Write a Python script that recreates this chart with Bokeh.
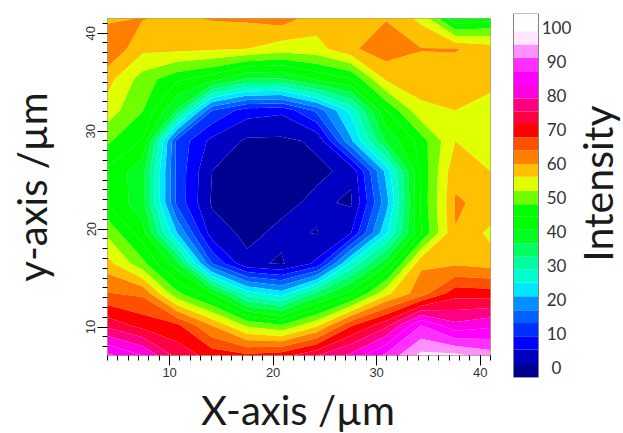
from bokeh.plotting import figure
from bokeh.layouts import row, column
from bokeh.models import Range1d, FixedTicker
from bokeh.core.properties import value
from bokeh.embed import file_html
from bokeh.resources import INLINE

x_um = [4.0, 7.4, 10.7, 14.1, 17.5, 20.8, 24.2, 27.5, 30.9, 34.3, 37.6, 41.0]
y_um = [41.5, 38.4, 35.3, 32.1, 29.0, 25.9, 22.7, 19.6, 16.5, 13.4, 10.2, 7.1]
r00 = [59, 59.9, 59, 60, 60.3, 61.5, 58, 58, 59.5, 55, 41, 43]
r01 = [63, 57, 57, 56.5, 56, 54, 54.5, 59, 62, 59.85, 59.95, 58]
r02 = [57.5, 50, 45, 42, 36, 36, 41, 44, 56.5, 58, 58, 57.5]
r03 = [54, 48, 36, 13, 7, 6, 14, 26, 44, 55, 56, 54]
r04 = [48.5, 44, 12, 4, 0.3, 0.2, 1.6, 20, 37, 46, 56, 53]
r05 = [43.5, 38, 12, 1, 0, 0, 0.3, 1.8, 22, 45, 59, 56]
r06 = [44, 38, 12, 0.5, 0, 0, 1.8, 0.4, 19, 45, 60, 59]
r07 = [51, 42, 21, 3, 0, 1.9, 0.8, 5, 24, 44, 59.6, 55]
r08 = [57.5, 49, 38, 13, 1.9, 0.5, 6, 26, 39, 59, 59, 58]
r09 = [64, 63, 49, 41, 27, 23, 34, 42, 55, 62, 70, 69.5]
r10 = [74, 70, 68.5, 59.5, 51, 48, 55, 67, 74, 87, 80, 82]
r11 = [88, 83, 74, 70, 68.5, 70, 75, 80, 88, 96, 96, 93]
rows_top_down = [r00, r01, r02, r03, r04, r05, r06, r07, r08, r09, r10, r11]

levels = [-3, 1, 5.2, 9.1, 13, 16.8, 20.9, 24.9, 28.8, 32.5, 36.4, 40.4, 44.3, 47.9, 51.9,
          56, 59.7, 63.7, 67.6, 71.5, 75.2, 79, 83, 87, 91, 94.9, 98.8, 104]
colors = ["#000090", "#0000c0", "#0000ff", "#0030ff", "#0060ff", "#0090ff", "#00e8ff",
          "#00ffd0", "#00ffa0", "#00ff60", "#00ff20", "#00ff00", "#00ff00", "#70ff00",
          "#e0ff00", "#ffc000", "#ff8000", "#ff5000", "#ff0000", "#ff0040", "#ff0080",
          "#ff00e0", "#ff00ff", "#ff30ff", "#ff90ff", "#ffe8ff", "#ffffff"]
bar_ticks = [0, 10, 20, 30, 40, 50, 60, 70, 80, 90, 100]

y_up = y_um[::-1]
z_up = rows_top_down[::-1]

p = figure(width=505, height=382, output_backend="svg", toolbar_location=None,
           x_range=Range1d(4, 41), y_range=Range1d(7.1, 41.5),
           min_border_left=107, min_border_right=15, min_border_top=18, min_border_bottom=27,
           y_axis_label="y-axis /µm")
p.contour(x_um, y_up, z_up, levels, fill_color=colors, line_color=None)
p.grid.visible = False
p.outline_line_color = "#a8a878"
for ax in (p.xaxis[0], p.yaxis[0]):
    ax.axis_line_color = None
    ax.major_tick_in = 0
    ax.major_tick_out = 10
    ax.minor_tick_in = 0
    ax.minor_tick_out = 5
    ax.major_tick_line_color = "#000000"
    ax.minor_tick_line_color = "#000000"
    ax.major_label_text_font = "Liberation Sans"
    ax.major_label_text_font_size = "13px"
    ax.major_label_text_color = "#333333"
    ax.axis_label_text_font = "Lato"
    ax.axis_label_text_font_style = "normal"
    ax.axis_label_text_font_size = "40px"
    ax.axis_label_text_color = "#1a1a1a"
p.xaxis[0].ticker = FixedTicker(ticks=[10, 20, 30, 40], minor_ticks=list(range(4, 42)))
p.yaxis[0].ticker = FixedTicker(ticks=[10, 20, 30, 40], minor_ticks=list(range(8, 42)))
p.yaxis[0].major_label_orientation = "vertical"
p.xaxis[0].major_label_standoff = 2
p.yaxis[0].major_label_standoff = 2
p.yaxis[0].axis_label_standoff = 28

lab = figure(width=505, height=51, output_backend="svg", toolbar_location=None,
             x_range=Range1d(4, 41), y_range=Range1d(0, 1),
             min_border_left=107, min_border_right=15, min_border_top=0, min_border_bottom=0)
lab.text(x=[22.4], y=[0.47], text=["X-axis /µm"], text_font=value("Lato"), text_font_size="40px",
         text_color="#1a1a1a", text_align="center", text_baseline="middle")
lab.grid.visible = False
lab.axis.visible = False
lab.outline_line_color = None

c = figure(width=118, height=433, output_backend="svg", toolbar_location=None,
           x_range=Range1d(0, 118), y_range=Range1d(-3, 104),
           min_border_left=0, min_border_right=0, min_border_top=13, min_border_bottom=56)
c.quad(left=8, right=33, bottom=levels[:-1], top=levels[1:], fill_color=colors, line_color=None)
c.quad(left=8, right=33, bottom=levels[0], top=levels[-1], fill_color=None, line_color="#808080")
c.text(x=[51] * len(bar_ticks), y=bar_ticks, text=[str(t) for t in bar_ticks],
       text_font=value("Lato"), text_font_size="17px", text_color="#333333",
       text_align="center", text_baseline="middle")
c.text(x=[92], y=[54], text=["Intensity"], angle=1.5708,
       text_font=value("Lato"), text_font_size="41px", text_color="#1a1a1a",
       text_align="center", text_baseline="middle")
c.grid.visible = False
c.axis.visible = False
c.outline_line_color = None

open("out.html", "w").write(file_html(row(column(p, lab), column(c)), INLINE))
